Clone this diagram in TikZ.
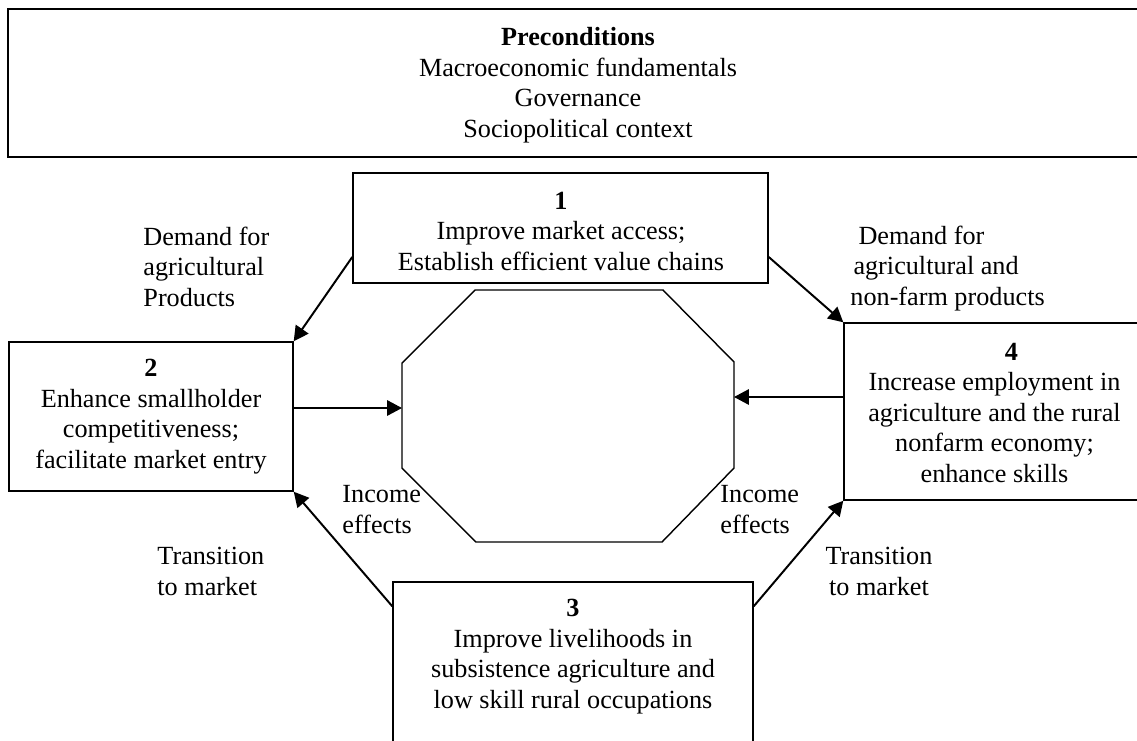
\documentclass[tikz,border=0pt]{standalone}
\usepackage{fontspec}
\setmainfont{Liberation Serif}
\usetikzlibrary{arrows.meta,fit,calc}
\begin{document}
\begin{tikzpicture}[x=0.458pt,y=-0.458pt,
  box/.style={draw, rectangle, line width=0.65pt, inner sep=0pt},
  txt/.style={inner sep=0pt, font=\fontsize{12}{13.9}\selectfont, align=center},
  lbl/.style={inner sep=0pt, font=\fontsize{12}{13.9}\selectfont, align=left},
  arr/.style={line width=0.9pt, -{Triangle[length=6.8pt,width=7pt]}}]
\useasboundingbox (0,0) rectangle (1137,740);
\clip (0,0) rectangle (1137,740);

% preconditions banner (text placed by the baseline of its last line)
\node[box, line width=1pt, fit={(8,9) (1148,157)}] (pre) {};
\node[txt, anchor=base] (pretext) at (578,137)
  {\textbf{Preconditions}\\Macroeconomic fundamentals\\Governance\\Sociopolitical context};

% the four strategy boxes
\node[box, fit={(353,173) (768,283)}] (b1) {};
\node[txt, anchor=base] (t1) at (561,270)
  {\textbf{1}\\Improve market access;\\Establish efficient value chains};

\node[box, fit={(9,342) (293,491)}] (b2) {};
\node[txt, anchor=base] (t2) at (151,468)
  {\textbf{2}\\Enhance smallholder\\competitiveness;\\facilitate market entry};

\node[box, fit={(393,582) (753,790)}] (b3) {};
\node[txt, anchor=base] (t3) at (573,708)
  {\textbf{3}\\Improve livelihoods in\\subsistence agriculture and\\low skill rural occupations};

\node[box, fit={(844,323) (1145,500)}] (b4) {};
\node[txt, anchor=base] (t4) at (994.5,482)
  {\hspace*{15.6pt}\textbf{4}\\Increase employment in\\agriculture and the rural\\nonfarm economy;\\enhance skills};

% central octagon
\draw[line width=0.65pt] (475,290) -- (663,290) -- (734,362) -- (734,468)
  -- (662,542) -- (476,542) -- (402,468) -- (402,363) -- cycle;
\coordinate (octW) at (402,408);
\coordinate (octE) at (734,397);

% connector labels
\node[lbl, anchor=base west] (dl) at (143,306) {Demand for\\agricultural\\Products};
\node[lbl, anchor=base west] (dr) at (850,305)
  {\hspace*{3.7pt}Demand for\\\hspace*{1.4pt}agricultural and\\non-farm products};
\node[lbl, anchor=base west] (il) at (342,533) {Income\\effects};
\node[lbl, anchor=base west] (ir) at (720,533) {Income\\effects};
\node[lbl, anchor=base west] (tl) at (157,595) {Transition\\to market};
\node[txt, anchor=base] (tr) at (879,595) {Transition\\to market};

% connectors
\draw[arr] ($(b1.north west)!0.76!(b1.south west)$) -- (b2.north east);
\draw[arr] ($(b1.north east)!0.76!(b1.south east)$) -- (b4.north west);
\draw[arr] ($(b3.north west)+(0,25)$) -- (b2.south east);
\draw[arr] ($(b3.north east)+(0,25)$) -- (b4.south west);
\draw[arr] (b2.east |- octW) -- (octW);
\draw[arr] (b4.west |- octE) -- (octE);
\end{tikzpicture}
\end{document}
